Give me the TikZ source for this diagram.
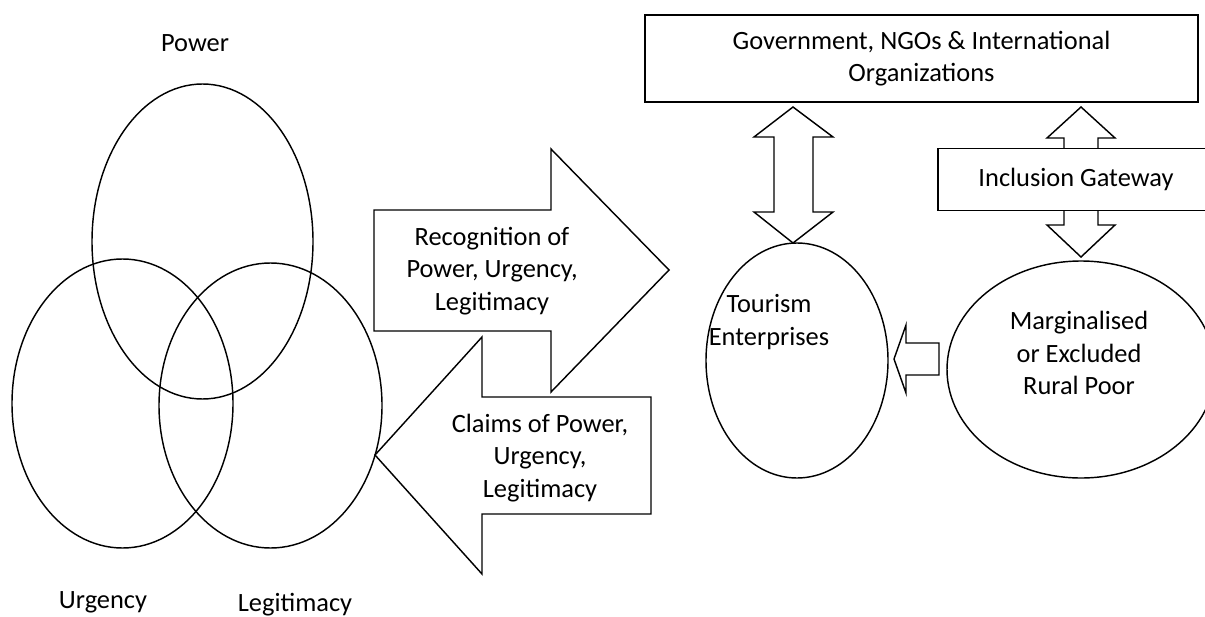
\documentclass[tikz,border=0pt]{standalone}
\usepackage{fontspec}
\setmainfont{Carlito}
\usepackage{tikz}
\usetikzlibrary{shapes.geometric}
\newcommand{\pxu}{0.4167pt}
\tikzstyle{venn} = [ellipse, draw=black, line width=0.6pt, inner sep=0pt]
\tikzstyle{blob} = [ellipse, draw=black, fill=white, line width=0.6pt, inner sep=0pt]
\tikzstyle{rect} = [rectangle, draw=black, fill=white, line width=0.6pt, inner sep=0pt]
\tikzstyle{blockarrow} = [draw=black, fill=white, line width=0.6pt, line join=miter]
\tikzstyle{lbl} = [align=center, inner sep=0pt]

\begin{document}
\begin{tikzpicture}[x=\pxu, y=-\pxu, font=\fontsize{11pt}{13.4pt}\selectfont]

        \fill[white] (0,0) rectangle (1205,616);
        \useasboundingbox (0,0) rectangle (1205,616);

        %% Venn

        \node (power) [venn, minimum width=221*\pxu, minimum height=315*\pxu] at (202.5,241.5) {};
        \node (urgency) [venn, minimum width=221*\pxu, minimum height=289*\pxu] at (122.5,403.5) {};
        \node (legit) [venn, minimum width=223*\pxu, minimum height=285*\pxu] at (270.5,405.5) {};

        \node (lpower) [lbl, anchor=base] at (195,51) {Power};
        \node (lurgency) [lbl, anchor=base] at (103,608) {Urgency};
        \node (llegit) [lbl, anchor=base] at (295,611) {Legitimacy};

        %% grosses fleches

        \draw[blockarrow] (374,210) -- (551,210) -- (551,149) -- (669,270) -- (551,392) -- (551,331) -- (374,331) -- cycle;
        \draw[blockarrow] (651,397) -- (482,397) -- (482,337) -- (375,455) -- (482,574) -- (482,514) -- (651,514) -- cycle;

        \node (recog) [lbl] at (492,271) {Recognition of\\Power, Urgency,\\Legitimacy};
        \node (claims) [lbl] at (540,458) {Claims of Power,\\Urgency,\\Legitimacy};

        %% acteurs

        \node (gov) [rect, minimum width=553*\pxu, minimum height=87*\pxu] at (921.5,58.5) {};
        \node [lbl] at (gov.center) {Government, NGOs \& International\\Organizations};

        \node (tourism) [blob, minimum width=182*\pxu, minimum height=235*\pxu] at (797,360.5) {};
        \node [lbl] at (769,322) {Tourism\\Enterprises};

        \node (poor) [blob, minimum width=268*\pxu, minimum height=217*\pxu] at (1081,369.5) {};
        \node [lbl] at (1079,353) {Marginalised\\or Excluded\\Rural Poor};

        %% doubles fleches

        \draw[blockarrow] (793,107) -- (833,137) -- (813,137) -- (813,212) -- (833,212) -- (793,243)
            -- (754,212) -- (774,212) -- (774,137) -- (754,137) -- cycle;
        \draw[blockarrow] (1081,107) -- (1115,138) -- (1098,138) -- (1098,225) -- (1115,225) -- (1081,257)
            -- (1047,225) -- (1064,225) -- (1064,138) -- (1047,138) -- cycle;
        \draw[blockarrow] (939,343) -- (906,343) -- (906,325) -- (894,359) -- (906,393) -- (906,375) -- (939,375) -- cycle;

        \node (gate) [rect, minimum width=276*\pxu, minimum height=62*\pxu] at (1076,179.5) {};
        \node [lbl] at (gate.center) {Inclusion Gateway};

    \end{tikzpicture}
\end{document}
